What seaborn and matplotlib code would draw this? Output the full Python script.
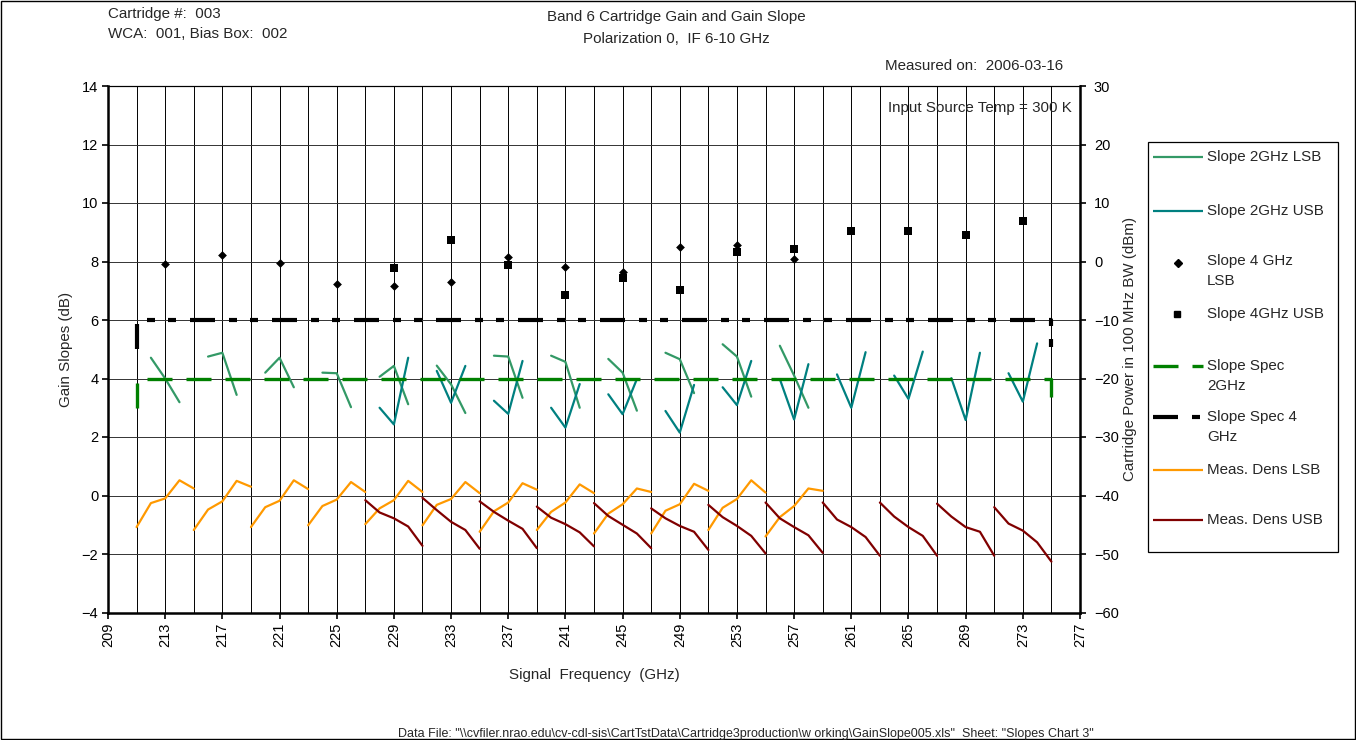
import matplotlib
matplotlib.use("Agg")
import matplotlib.pyplot as plt
import pandas as pd
import seaborn as sns
from matplotlib.lines import Line2D
from matplotlib.patches import Rectangle

# ---------------- data ----------------
lo_ghz = [221, 225, 229, 233, 237, 241, 245, 249, 253, 257, 261, 265]

# offsets of the signal frequency from the LO (GHz), ascending signal frequency
dens_lsb_offsets = [-10, -9, -8, -7, -6]
dens_usb_offsets = [6, 7, 8, 9, 10]
slope2_lsb_offsets = [-9, -8, -7]
slope2_usb_offsets = [7, 8, 9]
slope4_lsb_offset = -8
slope4_usb_offset = 8

# gain slope over 2 GHz windows (dB)
slope2_lsb = [
    [4.71, 4.00, 3.19], [4.75, 4.88, 3.44], [4.20, 4.71, 3.70], [4.20, 4.18, 3.02],
    [4.06, 4.43, 3.12], [4.44, 3.80, 2.82], [4.78, 4.75, 3.34], [4.78, 4.57, 3.00],
    [4.67, 4.20, 2.90], [4.88, 4.66, 3.50], [5.17, 4.75, 3.38], [5.12, 4.10, 3.00],
]
slope2_usb = [
    [3.00, 2.43, 4.71], [4.26, 3.17, 4.43], [3.24, 2.79, 4.60], [3.00, 2.32, 3.81],
    [3.46, 2.78, 3.98], [2.89, 2.15, 3.78], [3.70, 3.09, 4.60], [3.98, 2.60, 4.49],
    [4.14, 3.00, 4.90], [4.10, 3.30, 4.92], [4.01, 2.58, 4.88], [4.18, 3.21, 5.20],
]

# gain slope over the full 4 GHz band (dB)
slope4_lsb = [7.90, 8.22, 7.94, 7.22, 7.17, 7.29, 8.14, 7.82, 7.64, 8.49, 8.58, 8.08]
slope4_usb = [7.77, 8.74, 7.88, 6.87, 7.44, 7.02, 8.31, 8.43, 9.04, 9.04, 8.90, 9.39]

# slope specifications
spec_x = [211, 211, 275, 275]
spec2_y = [3.0, 4.0, 4.0, 3.0]
spec4_y = [5.0, 6.0, 6.0, 5.0]

# measured power density in 100 MHz BW (dBm)
dens_lsb = [
    [-45.4, -41.3, -40.5, -37.4, -38.8], [-45.9, -42.4, -41.0, -37.5, -38.5],
    [-45.4, -42.0, -40.9, -37.4, -38.9], [-45.1, -41.8, -40.7, -37.7, -39.4],
    [-44.9, -42.2, -40.8, -37.5, -39.4], [-45.1, -41.6, -40.6, -37.7, -39.6],
    [-46.2, -42.7, -41.2, -37.9, -39.0], [-45.9, -42.8, -41.2, -38.1, -39.6],
    [-46.5, -43.1, -41.5, -38.8, -39.4], [-46.5, -42.6, -41.5, -38.0, -39.2],
    [-45.9, -42.1, -40.6, -37.4, -39.5], [-47.0, -43.7, -41.8, -38.8, -39.2],
]
dens_usb = [
    [-40.8, -42.9, -43.9, -45.3, -48.6], [-40.4, -42.5, -44.5, -45.9, -49.1],
    [-41.0, -42.8, -44.3, -45.7, -49.0], [-41.9, -43.8, -44.9, -46.3, -48.7],
    [-41.3, -43.5, -45.0, -46.5, -49.0], [-42.2, -43.9, -45.2, -46.2, -49.3],
    [-41.6, -43.7, -45.2, -46.9, -49.9], [-41.2, -43.9, -45.4, -46.8, -49.8],
    [-41.2, -44.1, -45.4, -47.1, -50.3], [-41.2, -43.6, -45.4, -46.9, -50.3],
    [-41.4, -43.6, -45.4, -46.2, -50.3], [-42.0, -44.8, -46.0, -48.0, -51.3],
]

x_ticks = list(range(209, 278, 4))
left_ticks = list(range(-4, 15, 2))
right_ticks = list(range(-60, 31, 10))

# ---------------- style ----------------
C_LSB2 = "#339966"
C_USB2 = "#008080"
C_SPEC2 = "#008000"
C_SPEC4 = "#000000"
C_DLSB = "#FF9900"
C_DUSB = "#800000"
DASH_SPEC2 = [7.5, 4.2]
DASH_SPEC4 = [6.0, 3.36, 1.92, 3.12, 1.92, 3.36]
FS = 10.9

sns.set_style("white")
plt.rcParams["font.family"] = ["Liberation Sans", "DejaVu Sans"]
plt.rcParams["font.size"] = 10

W, H = 1356, 740
fig = plt.figure(figsize=(W / 100, H / 100), dpi=100)


def fx(px):
    return px / W


def fy(py):
    return 1 - py / H


ax = fig.add_axes([fx(108), fy(612.5), fx(1080) - fx(108), fy(86) - fy(612.5)])
ax2 = ax.twinx()


def segments(values, offsets):
    rows = []
    for lo, seg in zip(lo_ghz, values):
        for off, v in zip(offsets, seg):
            rows.append((lo, lo + off, v))
    return pd.DataFrame(rows, columns=["lo", "freq", "value"])


line_kw = dict(x="freq", y="value", units="lo", estimator=None, legend=False,
               linewidth=1.6)

sns.lineplot(data=segments(slope2_lsb, slope2_lsb_offsets), color=C_LSB2,
             ax=ax, zorder=3, **line_kw)
sns.lineplot(data=segments(slope2_usb, slope2_usb_offsets), color=C_USB2,
             ax=ax, zorder=3, **line_kw)

sns.scatterplot(x=[lo + slope4_lsb_offset for lo in lo_ghz], y=slope4_lsb,
                marker="D", s=20, color="black", edgecolor="black", linewidth=0,
                ax=ax, zorder=4, legend=False)
sns.scatterplot(x=[lo + slope4_usb_offset for lo in lo_ghz], y=slope4_usb,
                marker="s", s=26, color="black", edgecolor="black", linewidth=0,
                ax=ax, zorder=4, legend=False)

ax.plot(spec_x, spec2_y, color=C_SPEC2, lw=2.4, dashes=DASH_SPEC2,
        dash_capstyle="butt", zorder=5, clip_on=False)
ax.plot(spec_x, spec4_y, color=C_SPEC4, lw=3.0, dashes=DASH_SPEC4,
        dash_capstyle="butt", zorder=5, clip_on=False)

sns.lineplot(data=segments(dens_lsb, dens_lsb_offsets), color=C_DLSB,
             ax=ax2, zorder=3, **line_kw)
sns.lineplot(data=segments(dens_usb, dens_usb_offsets), color=C_DUSB,
             ax=ax2, zorder=3, **line_kw)

# ---------------- axes ----------------
ax.set_xlim(209, 277)
ax.set_ylim(-4, 14)
ax2.set_ylim(-60, 30)
ax.set_xticks(x_ticks)
ax.set_xticks([t + 2 for t in x_ticks[:-1]], minor=True)
ax.set_yticks(left_ticks)
ax2.set_yticks(right_ticks)
ax.set_xticklabels([str(t) for t in x_ticks], rotation=90)

ax.grid(True, axis="x", which="both", color="black", lw=0.7)
ax.grid(True, axis="y", which="major", color="#333333", lw=0.7)
ax.set_axisbelow(True)
ax2.grid(False)

for a in (ax, ax2):
    for s in a.spines.values():
        s.set_color("black")
    a.spines["top"].set_linewidth(0.8)
ax.spines["left"].set_linewidth(1.8)
ax.spines["bottom"].set_linewidth(1.8)
ax2.spines["right"].set_linewidth(1.8)
ax2.spines["left"].set_visible(False)
ax2.spines["bottom"].set_visible(False)

ax.tick_params(axis="both", which="major", direction="out", length=4, width=1.2,
               labelsize=10.5, pad=3, left=True, bottom=True, colors="black")
ax.tick_params(axis="x", which="minor", length=0)
ax2.tick_params(axis="y", direction="out", length=4, width=1.2, labelsize=10.5,
                pad=6, right=True, colors="black")

ax.set_xlabel("Signal  Frequency  (GHz)", fontsize=FS, labelpad=15.5)
ax.set_ylabel("Gain Slopes (dB)", fontsize=FS, labelpad=6)
ax2.set_ylabel("Cartridge Power in 100 MHz BW (dBm)", fontsize=FS, labelpad=3)

# ---------------- annotations ----------------
fig.text(fx(108), fy(14), "Cartridge #:  003", fontsize=FS, va="center")
fig.text(fx(108), fy(34), "WCA:  001, Bias Box:  002", fontsize=FS, va="center")
fig.text(fx(676), fy(17), "Band 6 Cartridge Gain and Gain Slope", fontsize=FS,
         ha="center", va="center")
fig.text(fx(676), fy(39), "Polarization 0,  IF 6-10 GHz", fontsize=FS,
         ha="center", va="center")
fig.text(fx(1063), fy(66), "Measured on:  2006-03-16", fontsize=FS,
         ha="right", va="center")
fig.text(fx(1072), fy(108), "Input Source Temp = 300 K", fontsize=FS,
         ha="right", va="center")
fig.text(fx(398), fy(734),
         'Data File: "\\\\cvfiler.nrao.edu\\cv-cdl-sis\\CartTstData\\Cartridge3production'
         '\\w orking\\GainSlope005.xls"  Sheet: "Slopes Chart 3"',
         fontsize=9.0, va="center")

# ---------------- legend ----------------
fig.add_artist(Rectangle((fx(1148), fy(552)), fx(1338) - fx(1148), fy(142) - fy(552),
                         transform=fig.transFigure, fill=False, edgecolor="black",
                         lw=0.9))


def leg_line(y, color, lw, dashes=None):
    kw = dict(transform=fig.transFigure, color=color, lw=lw, solid_capstyle="butt")
    ln = Line2D([fx(1153), fx(1203)], [fy(y), fy(y)], **kw)
    if dashes is not None:
        ln.set_dashes(dashes)
        ln.set_dash_capstyle("butt")
    fig.add_artist(ln)


def leg_text(y, s):
    fig.text(fx(1207), fy(y), s, fontsize=FS, va="center")


leg_line(157, C_LSB2, 1.6)
leg_text(157, "Slope 2GHz LSB")
leg_line(211, C_USB2, 1.6)
leg_text(211, "Slope 2GHz USB")
fig.add_artist(Line2D([fx(1178)], [fy(263)], transform=fig.transFigure, marker="D",
                      markersize=4.3, color="black", linestyle="none"))
leg_text(261, "Slope 4 GHz")
leg_text(281, "LSB")
fig.add_artist(Line2D([fx(1177)], [fy(314)], transform=fig.transFigure, marker="s",
                      markersize=5.0, color="black", linestyle="none"))
leg_text(314, "Slope 4GHz USB")
leg_line(366, C_SPEC2, 2.4, DASH_SPEC2)
leg_text(366, "Slope Spec")
leg_text(386, "2GHz")
leg_line(417, C_SPEC4, 3.0, DASH_SPEC4)
leg_text(417, "Slope Spec 4")
leg_text(437, "GHz")
leg_line(470, C_DLSB, 1.6)
leg_text(470, "Meas. Dens LSB")
leg_line(520, C_DUSB, 1.6)
leg_text(520, "Meas. Dens USB")

# outer frame of the chart area
fig.add_artist(Rectangle((0.0005, 0.001), 0.999, 0.998, transform=fig.transFigure,
                         fill=False, edgecolor="black", lw=1.0))

fig.savefig("out.png", dpi=100)
